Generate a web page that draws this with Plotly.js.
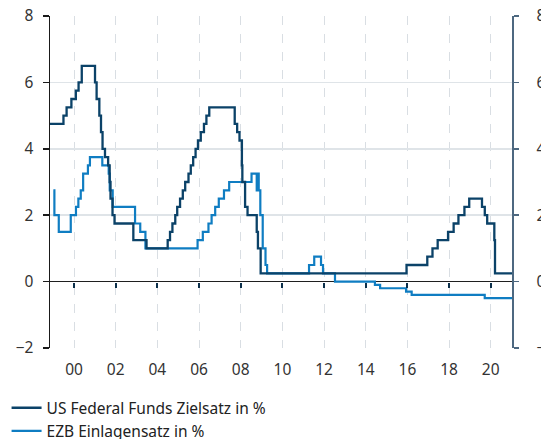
<!DOCTYPE html>
<html>
<head>
<meta charset="utf-8">
<script src="https://cdn.plot.ly/plotly-3.0.1.min.js"></script>
<style>
    html, body { margin: 0; padding: 0; background: #ffffff; }
    #chart { width: 541px; height: 439px; }
</style>
</head>
<body>
<div id="chart"></div>
<script>
// Leitzinsen: US Federal Funds Zielsatz vs. EZB Einlagensatz (step series)

const fedDates = [
    '1998-11-01', '1999-06-30', '1999-08-24', '1999-11-16', '2000-02-02', '2000-03-21',
    '2000-05-16', '2001-01-03', '2001-01-31', '2001-03-20', '2001-04-18', '2001-05-15',
    '2001-06-27', '2001-08-21', '2001-09-17', '2001-10-02', '2001-11-06', '2001-12-11',
    '2002-11-06', '2003-06-25', '2004-06-30', '2004-08-10', '2004-09-21', '2004-11-10',
    '2004-12-14', '2005-02-02', '2005-03-22', '2005-05-03', '2005-06-30', '2005-08-09',
    '2005-09-20', '2005-11-01', '2005-12-13', '2006-01-31', '2006-03-28', '2006-05-10',
    '2006-06-29', '2007-09-18', '2007-10-31', '2007-12-11', '2008-01-22', '2008-01-30',
    '2008-03-18', '2008-04-30', '2008-10-08', '2008-10-29', '2008-12-16', '2015-12-17',
    '2016-12-15', '2017-03-16', '2017-06-15', '2017-12-14', '2018-03-22', '2018-06-14',
    '2018-09-27', '2018-12-20', '2019-08-01', '2019-09-19', '2019-10-31', '2020-03-04',
    '2020-03-16', '2021-01-31'
];
const fedRates = [
    4.75, 5.00, 5.25, 5.50, 5.75, 6.00,
    6.50, 6.00, 5.50, 5.00, 4.50, 4.00,
    3.75, 3.50, 3.00, 2.50, 2.00, 1.75,
    1.25, 1.00, 1.25, 1.50, 1.75, 2.00,
    2.25, 2.50, 2.75, 3.00, 3.25, 3.50,
    3.75, 4.00, 4.25, 4.50, 4.75, 5.00,
    5.25, 4.75, 4.50, 4.25, 3.50, 3.00,
    2.25, 2.00, 1.50, 1.00, 0.25, 0.50,
    0.75, 1.00, 1.25, 1.50, 1.75, 2.00,
    2.25, 2.50, 2.25, 2.00, 1.75, 1.25,
    0.25, 0.25
];

const ecbDates = [
    '1999-01-04', '1999-01-22', '1999-04-09', '1999-11-05', '2000-02-04', '2000-03-17',
    '2000-04-28', '2000-06-09', '2000-09-01', '2000-10-06', '2001-05-11', '2001-08-31',
    '2001-09-18', '2001-11-09', '2002-12-06', '2003-03-07', '2003-06-06', '2005-12-06',
    '2006-03-08', '2006-06-15', '2006-08-09', '2006-10-11', '2006-12-13', '2007-03-14',
    '2007-06-13', '2008-07-09', '2008-10-08', '2008-10-09', '2008-11-12', '2008-12-10',
    '2009-01-21', '2009-03-11', '2009-04-08', '2011-04-13', '2011-07-13', '2011-11-09',
    '2011-12-14', '2012-07-11', '2014-06-11', '2014-09-10', '2015-12-09', '2016-03-16',
    '2019-09-18', '2021-01-31'
];
const ecbRates = [
    2.75, 2.00, 1.50, 2.00, 2.25, 2.50,
    2.75, 3.25, 3.50, 3.75, 3.50, 3.25,
    2.75, 2.25, 1.75, 1.50, 1.00, 1.25,
    1.50, 1.75, 2.00, 2.25, 2.50, 2.75,
    3.00, 3.25, 2.75, 3.25, 2.75, 2.00,
    1.00, 0.50, 0.25, 0.50, 0.75, 0.50,
    0.25, 0.00, -0.10, -0.20, -0.30, -0.40,
    -0.50, -0.50
];

const seriesNames = ['US Federal Funds Zielsatz in %', 'EZB Einlagensatz in %'];
const yTicks = [-2, 0, 2, 4, 6, 8];

const xRange = ['1998-11-06', '2021-01-08'];
const yRange = [-2, 8];

const FONT = '"Noto Sans", "Open Sans", sans-serif';
const DARK = '#0b4268';
const LIGHT = '#0f7dc2';

document.addEventListener('DOMContentLoaded', function() {
    drawChart();
});

function drawChart() {
    const ecbTrace = {
        x: ecbDates,
        y: ecbRates,
        type: 'scatter',
        mode: 'lines',
        name: seriesNames[1],
        line: { color: LIGHT, width: 2.2, shape: 'hv' },
        hoverinfo: 'skip'
    };

    const fedTrace = {
        x: fedDates,
        y: fedRates,
        type: 'scatter',
        mode: 'lines',
        name: seriesNames[0],
        line: { color: DARK, width: 2.3, shape: 'hv' },
        hoverinfo: 'skip'
    };

    // empty trace so the overlay axes (ticks on zero line, right axis) get drawn
    const axisHelper = {
        x: [],
        y: [],
        type: 'scatter',
        mode: 'lines',
        xaxis: 'x2',
        yaxis: 'y2',
        showlegend: false,
        hoverinfo: 'skip'
    };

    const layout = {
        width: 541,
        height: 439,
        margin: { l: 50, r: 29, t: 16, b: 91, pad: 0, autoexpand: false },
        paper_bgcolor: '#ffffff',
        plot_bgcolor: '#ffffff',
        font: { family: FONT, size: 15, color: '#333333' },
        showlegend: true,
        legend: {
            orientation: 'v',
            x: -0.094,
            xanchor: 'left',
            y: -0.13,
            yanchor: 'top',
            traceorder: 'reversed',
            tracegroupgap: 0,
            font: { family: FONT, size: 15.5, color: '#222222' },
            bgcolor: 'rgba(0,0,0,0)'
        },
        xaxis: {
            type: 'date',
            range: xRange,
            tick0: '2000-01-01',
            dtick: 'M24',
            tickformat: '%y',
            ticks: '',
            showline: false,
            showgrid: true,
            gridcolor: '#d9dee3',
            griddash: 'dash',
            gridwidth: 1,
            ticklabelstandoff: 10,
            tickfont: { family: FONT, size: 15.5, color: '#333333' },
            fixedrange: true
        },
        xaxis2: {
            type: 'date',
            range: xRange,
            overlaying: 'x',
            anchor: 'free',
            position: 0.2,
            side: 'bottom',
            tick0: '2000-01-01',
            dtick: 'M24',
            ticks: 'outside',
            ticklen: 5,
            tickwidth: 2,
            tickcolor: '#0b2f4a',
            showticklabels: false,
            showgrid: false,
            showline: false,
            zeroline: false,
            fixedrange: true
        },
        yaxis: {
            range: yRange,
            tickvals: yTicks,
            ticks: 'outside',
            ticklen: 6,
            tickwidth: 1.5,
            tickcolor: '#1a1a1a',
            showline: true,
            linecolor: '#1a1a1a',
            linewidth: 1.5,
            showgrid: true,
            gridcolor: '#dfe4e8',
            gridwidth: 1.5,
            zeroline: true,
            zerolinecolor: '#1f1f1f',
            zerolinewidth: 1.5,
            ticklabelstandoff: 6,
            tickfont: { family: FONT, size: 15.5, color: '#333333' },
            fixedrange: true
        },
        yaxis2: {
            range: yRange,
            tickvals: yTicks,
            overlaying: 'y',
            side: 'right',
            anchor: 'x',
            ticks: 'outside',
            ticklen: 5,
            tickwidth: 1.5,
            tickcolor: '#4d6880',
            showline: true,
            linecolor: '#4d6880',
            linewidth: 1.5,
            showgrid: false,
            zeroline: false,
            ticklabelstandoff: 15,
            tickfont: { family: FONT, size: 15.5, color: '#333333' },
            fixedrange: true
        }
    };

    Plotly.newPlot('chart', [ecbTrace, fedTrace, axisHelper], layout, {
        displayModeBar: false,
        staticPlot: true
    });
}
</script>
</body>
</html>
